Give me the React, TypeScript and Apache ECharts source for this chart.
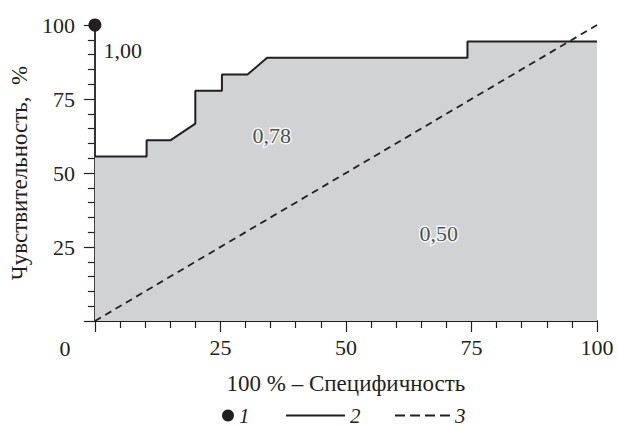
import React, { useEffect, useRef } from "react";
import * as echarts from "echarts";

const FONT = "Liberation Serif";
const INK = "#231f20";
const FS = 22;
const FS_NAME = 23;

// ROC curve (100% - specificity, sensitivity)
const rocX = [0, 10.3, 10.3, 15.1, 20, 20, 25.3, 25.3, 30.4, 34.3, 74.2, 74.2, 100];
const rocY = [55.6, 55.6, 61.1, 61.1, 66.7, 77.8, 77.8, 83.3, 83.3, 88.9, 88.9, 94.4, 94.4];
// reference (chance) line
const refX = [0, 100];
const refY = [0, 100];
// ideal point
const idealPoint = [0, 100];
const idealLabel = "1,00";
// AUC labels
const aucLabels = ["0,78", "0,50"];
const aucX = [35.2, 68.5];
const aucY = [62.8, 29.4];
const legendNames = ["1", "2", "3"];
const axisTicks = [0, 25, 50, 75, 100];

export default function App() {
  const ref = useRef<HTMLDivElement>(null);
  useEffect(() => {
    if (!ref.current) return;
    const chart = echarts.init(ref.current, null, { renderer: "svg" });
    const legendText = { fontFamily: FONT, fontSize: 21, fontStyle: "italic", color: INK };
    chart.setOption({
      animation: false,
      backgroundColor: "#ffffff",
      textStyle: { fontFamily: FONT },
      grid: { left: 89, right: 21, top: 25, bottom: 106, containLabel: false },
      legend: [
        {
          data: [{ name: legendNames[0], icon: "circle", itemStyle: { color: INK, opacity: 1 } }],
          left: 222, top: 405, itemWidth: 12, itemHeight: 12, selectedMode: false, textStyle: legendText, padding: 0,
        },
        {
          data: [{ name: legendNames[1], icon: "rect", itemStyle: { color: INK } }],
          left: 286, top: 405, itemWidth: 59, itemHeight: 2, selectedMode: false, textStyle: legendText, padding: 0,
        },
        {
          data: [{
            name: legendNames[2],
            icon: "path://M0,0h10v2h-10zM15,0h10v2h-10zM30,0h10v2h-10zM45,0h10v2h-10z",
            itemStyle: { color: INK },
          }],
          left: 395, top: 405, itemWidth: 55, itemHeight: 2, selectedMode: false, textStyle: legendText, padding: 0,
        },
      ],
      xAxis: {
        type: "value",
        min: axisTicks[0],
        max: axisTicks[axisTicks.length - 1],
        interval: 25,
        name: "100 % – Специфичность",
        nameLocation: "middle",
        nameGap: 51,
        nameTextStyle: { fontFamily: FONT, fontSize: FS_NAME, color: INK },
        axisLine: { lineStyle: { color: INK, width: 1.8 } },
        axisTick: { length: 11, lineStyle: { color: INK, width: 1.2 } },
        minorTick: { show: true, splitNumber: 5, length: 7, lineStyle: { color: INK, width: 1.2 } },
        splitLine: { show: false },
        axisLabel: {
          margin: 15,
          fontFamily: FONT,
          fontSize: FS,
          color: INK,
          formatter: (v: number) => (v === 0 ? "" : String(v)),
        },
      },
      yAxis: {
        type: "value",
        min: axisTicks[0],
        max: axisTicks[axisTicks.length - 1],
        interval: 25,
        name: "Чувствительность,  %",
        nameLocation: "middle",
        nameGap: 58,
        nameTextStyle: { fontFamily: FONT, fontSize: FS_NAME, color: INK },
        axisLine: { lineStyle: { color: INK, width: 1.8 } },
        axisTick: { length: 11, lineStyle: { color: INK, width: 1.2 } },
        minorTick: { show: true, splitNumber: 5, length: 7, lineStyle: { color: INK, width: 1.2 } },
        splitLine: { show: false },
        axisLabel: {
          margin: 20,
          fontFamily: FONT,
          fontSize: FS,
          color: INK,
          formatter: (v: number) => (v === 0 ? "" : String(v)),
        },
      },
      graphic: [
        {
          type: "text",
          x: 65,
          y: 348,
          style: { text: String(axisTicks[0]), fontFamily: FONT, fontSize: FS, fill: INK, align: "center", verticalAlign: "middle" },
        },
      ],
      series: [
        {
          name: legendNames[1],
          type: "line",
          data: rocX.map((x, i) => [x, rocY[i]]),
          symbol: "none",
          lineStyle: { color: INK, width: 2 },
          itemStyle: { color: INK },
          areaStyle: { color: "#d1d2d4", opacity: 1 },
          z: 2,
        },
        {
          name: legendNames[2],
          type: "line",
          data: refX.map((x, i) => [x, refY[i]]),
          symbol: "none",
          lineStyle: { color: INK, width: 1.8, type: [7, 5] },
          itemStyle: { color: INK },
          z: 3,
        },
        {
          name: legendNames[0],
          type: "scatter",
          data: [idealPoint],
          symbol: "circle",
          symbolSize: 13,
          clip: false,
          itemStyle: { color: INK, opacity: 1 },
          label: {
            show: true,
            formatter: idealLabel,
            position: [15, 32],
            align: "left",
            verticalAlign: "middle",
            fontFamily: FONT,
            fontSize: FS,
            color: INK,
          },
          z: 5,
        },
        {
          name: "auc",
          type: "scatter",
          data: aucLabels.map((n, i) => ({ name: n, value: [aucX[i], aucY[i]] })),
          symbolSize: 0,
          label: {
            show: true,
            position: "inside",
            formatter: (p: any) => p.name,
            fontFamily: FONT,
            fontSize: FS,
            color: INK,
            textBorderColor: "#ffffff",
            textBorderWidth: 3,
          },
          z: 6,
        },
      ],
    });
    return () => chart.dispose();
  }, []);
  return <div ref={ref} style={{ position: "fixed", left: 0, top: 0, width: 618, height: 427 }} />;
}
